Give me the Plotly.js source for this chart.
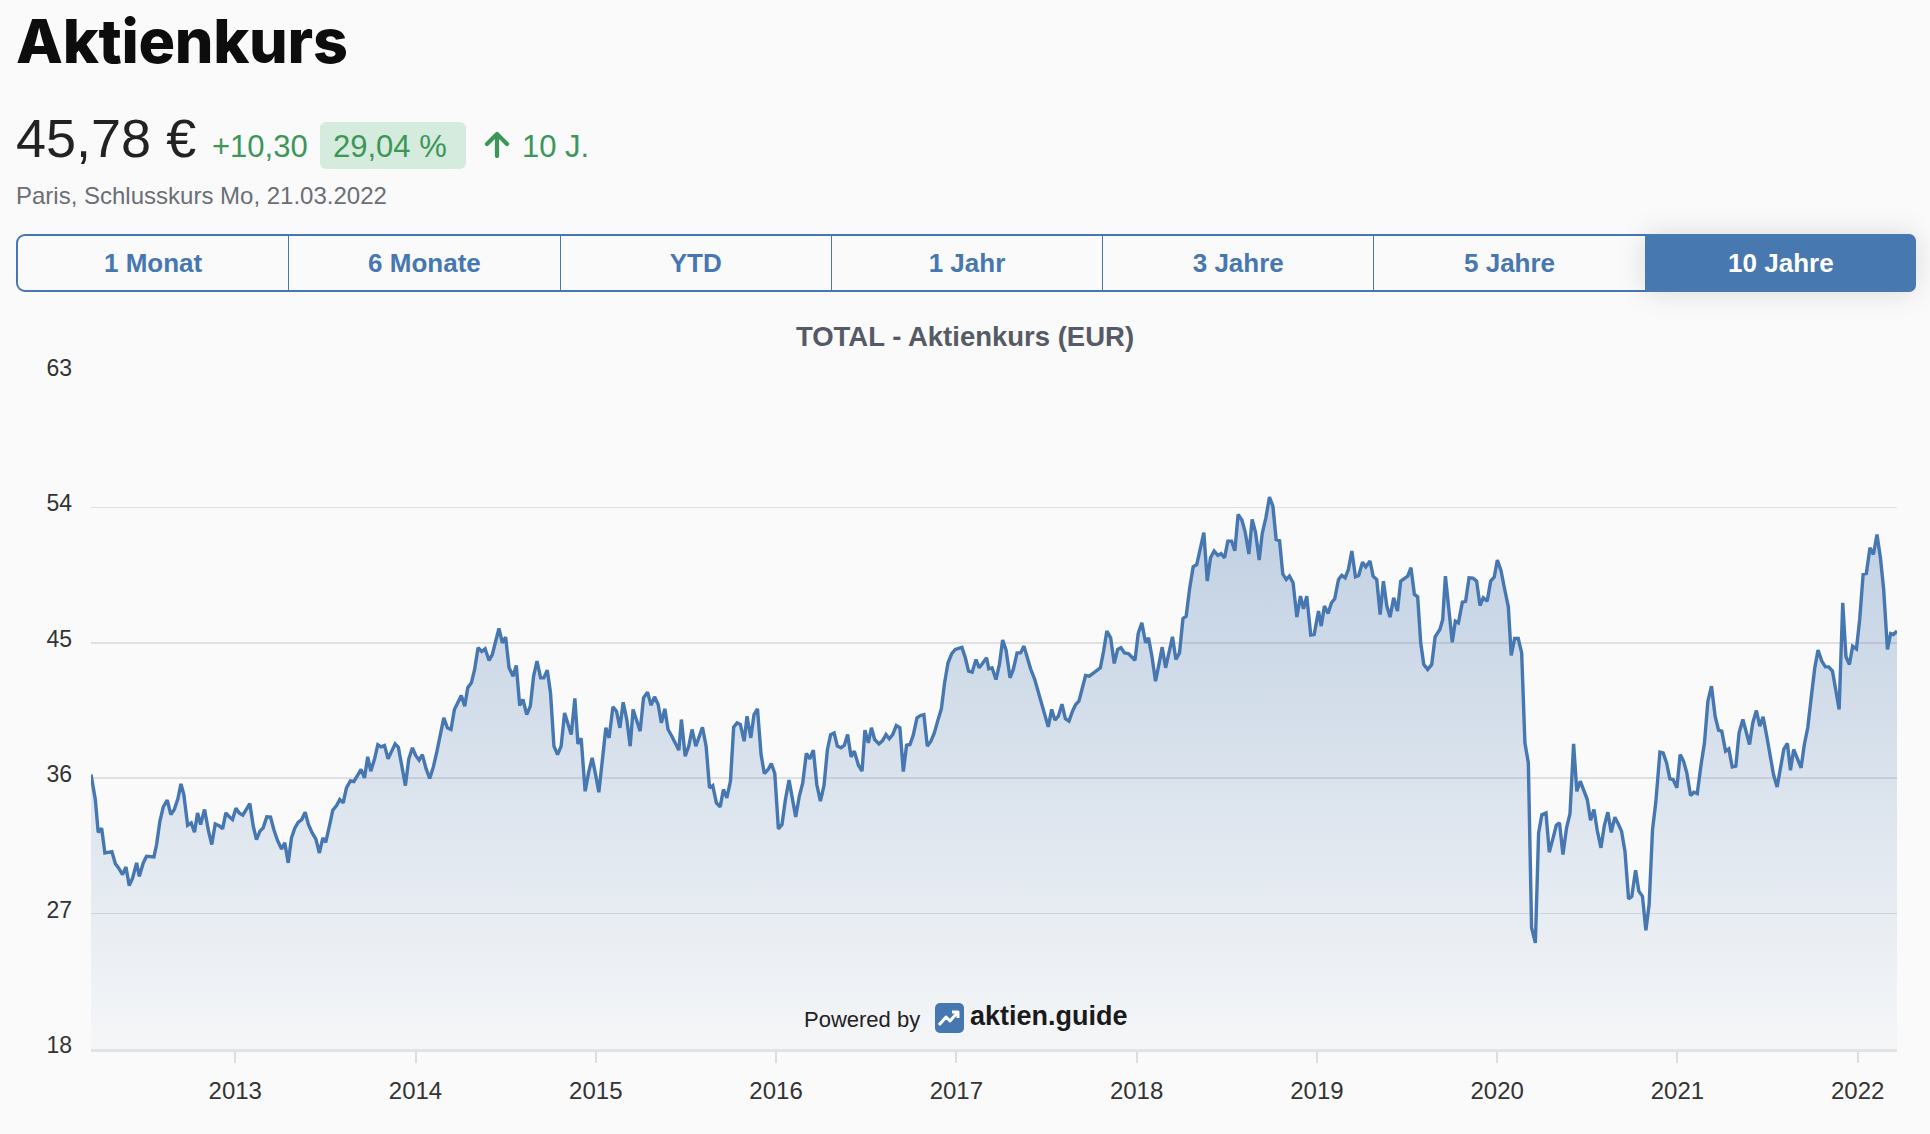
<!DOCTYPE html>
<html>
<head>
<meta charset="utf-8">
<script src="https://cdn.plot.ly/plotly-3.0.1.min.js"></script>
<style>
  html, body { margin: 0; padding: 0; background: #fafafa; }
  body { width: 1930px; height: 1134px; position: relative; overflow: hidden; font-family: "Liberation Sans", Arial, sans-serif; }
  #chart { position: absolute; left: 0; top: 0; width: 1930px; height: 1134px; }
  .abs { position: absolute; white-space: nowrap; }
  h1 { position: absolute; left: 16px; top: 11px; margin: 0; font-family: Inter, sans-serif; font-weight: 800; font-size: 61px; line-height: 61px; color: #0d0d0d; letter-spacing: -0.3px; }
  .price { left: 16px; top: 111px; font-size: 54px; line-height: 54px; color: #222; }
  .green { color: #3b9758; font-size: 31px; line-height: 31px; }
  .badge { left: 320px; top: 122px; width: 146px; height: 47px; background: #d5ebdd; border-radius: 6px; }
  .sub { left: 16px; top: 184px; font-size: 24px; line-height: 24px; color: #6b6e75; }
  .tabs { position: absolute; left: 16px; top: 234px; width: 1896px; height: 54px; border: 2px solid #4677b0; border-radius: 9px; overflow: visible; display: flex; }
  .tabs div { flex: 1; display: flex; align-items: center; justify-content: center; font-weight: bold; font-size: 26px; color: #4677b0; border-left: 1.5px solid #4677b0; }
  .tabs div:first-child { border-left: none; }
  .tabs div.on { background: #4878b0; color: #fff; border-radius: 0 7px 7px 0; box-shadow: 0 0 28px rgba(0,0,0,0.13); margin: -2px -2px -2px 0; }
  .pw { left: 804px; top: 1009px; font-size: 22px; line-height: 22px; color: #222; }
  .ag { left: 970px; top: 1003px; font-size: 27px; line-height: 27px; font-weight: bold; color: #1a1a1a; }
</style>
</head>
<body>
<div id="chart"></div>

<h1>Aktienkurs</h1>
<div class="abs price">45,78 €</div>
<div class="abs green" style="left:212px; top:131px;">+10,30</div>
<div class="abs badge"></div>
<div class="abs green" style="left:333px; top:131px;">29,04 %</div>
<svg class="abs" style="left:483px; top:131px;" width="28" height="27" viewBox="0 0 28 27">
  <path d="M14 25 V4 M4 13 L14 3 L24 13" stroke="#3b9758" stroke-width="4.2" fill="none" stroke-linecap="round" stroke-linejoin="round"/>
</svg>
<div class="abs green" style="left:522px; top:131px;">10 J.</div>
<div class="abs sub">Paris, Schlusskurs Mo, 21.03.2022</div>

<div class="tabs">
  <div>1 Monat</div>
  <div>6 Monate</div>
  <div>YTD</div>
  <div>1 Jahr</div>
  <div>3 Jahre</div>
  <div>5 Jahre</div>
  <div class="on">10 Jahre</div>
</div>

<div class="abs pw">Powered by</div>
<svg class="abs" style="left:935px; top:1003px;" width="29" height="30" viewBox="0 0 29 30">
  <rect x="0" y="0" width="29" height="30" rx="5" fill="#4677b0"/>
  <path d="M4 22 L11 14 L15 18 L23 9 M17 9 H23 V15" stroke="#fff" stroke-width="3" fill="none" stroke-linejoin="round"/>
</svg>
<div class="abs ag">aktien.guide</div>

<script>
// weekly closing prices, x as decimal year
var dateYears = [
  2012.200, 2012.224, 2012.240, 2012.259, 2012.277, 2012.316, 2012.335, 2012.353, 2012.375, 2012.394,
  2012.412, 2012.431, 2012.453, 2012.468, 2012.490, 2012.508, 2012.549, 2012.564, 2012.582, 2012.601,
  2012.623, 2012.643, 2012.662, 2012.682, 2012.699, 2012.715, 2012.736, 2012.756, 2012.774, 2012.791,
  2012.808, 2012.830, 2012.852, 2012.870, 2012.889, 2012.915, 2012.930, 2012.948, 2012.967, 2012.985,
  2013.004, 2013.022, 2013.042, 2013.063, 2013.081, 2013.100, 2013.118, 2013.137, 2013.155, 2013.175,
  2013.196, 2013.214, 2013.234, 2013.257, 2013.275, 2013.294, 2013.312, 2013.331, 2013.349, 2013.369,
  2013.388, 2013.406, 2013.427, 2013.447, 2013.467, 2013.486, 2013.502, 2013.523, 2013.541, 2013.562,
  2013.580, 2013.599, 2013.617, 2013.639, 2013.658, 2013.676, 2013.698, 2013.717, 2013.735, 2013.752,
  2013.772, 2013.791, 2013.809, 2013.828, 2013.848, 2013.868, 2013.887, 2013.905, 2013.926, 2013.944,
  2013.963, 2013.983, 2014.001, 2014.020, 2014.038, 2014.059, 2014.079, 2014.099, 2014.118, 2014.138,
  2014.157, 2014.177, 2014.197, 2014.216, 2014.236, 2014.254, 2014.273, 2014.290, 2014.310, 2014.328,
  2014.347, 2014.367, 2014.386, 2014.408, 2014.426, 2014.445, 2014.463, 2014.482, 2014.500, 2014.519,
  2014.541, 2014.559, 2014.578, 2014.596, 2014.617, 2014.637, 2014.655, 2014.674, 2014.694, 2014.712,
  2014.731, 2014.749, 2014.768, 2014.788, 2014.808, 2014.827, 2014.843, 2014.864, 2014.884, 2014.901,
  2014.919, 2014.941, 2014.962, 2014.980, 2014.999, 2015.017, 2015.036, 2015.056, 2015.074, 2015.095,
  2015.115, 2015.134, 2015.152, 2015.172, 2015.191, 2015.207, 2015.228, 2015.246, 2015.265, 2015.287,
  2015.307, 2015.326, 2015.346, 2015.364, 2015.383, 2015.401, 2015.422, 2015.440, 2015.461, 2015.475,
  2015.496, 2015.516, 2015.534, 2015.555, 2015.573, 2015.592, 2015.612, 2015.631, 2015.649, 2015.669,
  2015.690, 2015.708, 2015.727, 2015.747, 2015.765, 2015.784, 2015.802, 2015.823, 2015.839, 2015.860,
  2015.878, 2015.897, 2015.917, 2015.935, 2015.956, 2015.974, 2015.993, 2016.013, 2016.033, 2016.052,
  2016.072, 2016.091, 2016.109, 2016.129, 2016.148, 2016.168, 2016.187, 2016.207, 2016.226, 2016.246,
  2016.266, 2016.285, 2016.303, 2016.322, 2016.340, 2016.360, 2016.379, 2016.397, 2016.416, 2016.434,
  2016.457, 2016.477, 2016.493, 2016.512, 2016.529, 2016.547, 2016.571, 2016.591, 2016.610, 2016.628,
  2016.647, 2016.667, 2016.687, 2016.706, 2016.724, 2016.743, 2016.761, 2016.782, 2016.802, 2016.820,
  2016.839, 2016.859, 2016.878, 2016.898, 2016.917, 2016.935, 2016.954, 2016.974, 2016.994, 2017.031,
  2017.050, 2017.068, 2017.088, 2017.109, 2017.127, 2017.148, 2017.168, 2017.180, 2017.198, 2017.220,
  2017.239, 2017.257, 2017.276, 2017.298, 2017.316, 2017.337, 2017.357, 2017.375, 2017.394, 2017.412,
  2017.435, 2017.453, 2017.471, 2017.490, 2017.510, 2017.529, 2017.547, 2017.566, 2017.586, 2017.605,
  2017.625, 2017.643, 2017.662, 2017.680, 2017.699, 2017.717, 2017.738, 2017.756, 2017.775, 2017.799,
  2017.817, 2017.835, 2017.856, 2017.876, 2017.895, 2017.913, 2017.933, 2017.954, 2017.972, 2017.991,
  2018.009, 2018.029, 2018.050, 2018.066, 2018.085, 2018.105, 2018.124, 2018.142, 2018.161, 2018.179,
  2018.199, 2018.218, 2018.238, 2018.257, 2018.275, 2018.294, 2018.314, 2018.334, 2018.353, 2018.373,
  2018.392, 2018.410, 2018.430, 2018.451, 2018.469, 2018.488, 2018.506, 2018.527, 2018.545, 2018.563,
  2018.584, 2018.602, 2018.623, 2018.641, 2018.660, 2018.680, 2018.697, 2018.717, 2018.737, 2018.756,
  2018.774, 2018.793, 2018.811, 2018.830, 2018.848, 2018.868, 2018.889, 2018.909, 2018.926, 2018.944,
  2018.966, 2018.985, 2019.009, 2019.024, 2019.042, 2019.062, 2019.081, 2019.099, 2019.120, 2019.138,
  2019.157, 2019.175, 2019.194, 2019.214, 2019.232, 2019.253, 2019.271, 2019.295, 2019.312, 2019.332,
  2019.351, 2019.369, 2019.388, 2019.406, 2019.426, 2019.447, 2019.465, 2019.485, 2019.504, 2019.522,
  2019.541, 2019.559, 2019.576, 2019.593, 2019.615, 2019.637, 2019.656, 2019.683, 2019.698, 2019.713,
  2019.731, 2019.751, 2019.768, 2019.785, 2019.807, 2019.825, 2019.844, 2019.866, 2019.886, 2019.905,
  2019.923, 2019.945, 2019.964, 2019.984, 2020.001, 2020.021, 2020.040, 2020.062, 2020.078, 2020.097,
  2020.117, 2020.136, 2020.154, 2020.173, 2020.191, 2020.212, 2020.230, 2020.248, 2020.271, 2020.289,
  2020.309, 2020.328, 2020.346, 2020.365, 2020.385, 2020.404, 2020.424, 2020.442, 2020.461, 2020.479,
  2020.500, 2020.518, 2020.537, 2020.555, 2020.576, 2020.594, 2020.614, 2020.633, 2020.653, 2020.672,
  2020.690, 2020.709, 2020.729, 2020.747, 2020.768, 2020.786, 2020.806, 2020.825, 2020.843, 2020.862,
  2020.880, 2020.903, 2020.921, 2020.940, 2020.958, 2020.976, 2020.997, 2021.015, 2021.034, 2021.052,
  2021.073, 2021.091, 2021.110, 2021.130, 2021.150, 2021.169, 2021.189, 2021.209, 2021.228, 2021.246,
  2021.267, 2021.285, 2021.304, 2021.324, 2021.342, 2021.363, 2021.381, 2021.400, 2021.418, 2021.438,
  2021.457, 2021.475, 2021.494, 2021.514, 2021.533, 2021.553, 2021.571, 2021.590, 2021.610, 2021.627,
  2021.645, 2021.666, 2021.686, 2021.704, 2021.723, 2021.743, 2021.762, 2021.780, 2021.801, 2021.821,
  2021.839, 2021.860, 2021.878, 2021.897, 2021.917, 2021.935, 2021.954, 2021.972, 2021.993, 2022.011,
  2022.030, 2022.048, 2022.068, 2022.087, 2022.107, 2022.126, 2022.144, 2022.165, 2022.183, 2022.198,
  2022.218
];

var prices = [
  36.24, 34.58, 32.40, 32.67, 31.03, 31.12, 30.32, 30.04, 29.59, 30.10,
  28.86, 29.37, 30.37, 29.48, 30.37, 30.81, 30.77, 31.59, 33.14, 34.09,
  34.54, 33.58, 33.92, 34.63, 35.62, 34.91, 32.87, 33.03, 32.41, 33.69,
  32.92, 33.92, 32.48, 31.59, 32.96, 32.81, 32.63, 33.69, 33.43, 33.25,
  34.00, 33.69, 33.54, 33.96, 34.31, 32.81, 31.92, 32.48, 32.70, 33.43,
  33.41, 32.59, 31.88, 31.30, 31.70, 30.37, 32.03, 32.70, 33.07, 33.25,
  33.74, 32.92, 32.36, 31.97, 31.03, 32.03, 31.74, 32.85, 33.87, 34.18,
  34.58, 34.36, 35.36, 35.82, 35.78, 36.13, 36.58, 36.02, 37.42, 36.47,
  37.24, 38.22, 38.08, 38.17, 37.29, 37.80, 38.28, 38.06, 36.58, 35.51,
  37.29, 38.02, 37.51, 37.20, 37.57, 36.62, 35.98, 36.75, 37.73, 38.79,
  40.01, 39.35, 39.24, 40.57, 41.01, 41.50, 40.79, 42.01, 42.34, 43.23,
  44.67, 44.42, 44.60, 43.83, 44.22, 45.11, 45.95, 45.00, 45.38, 43.34,
  42.78, 43.49, 40.83, 41.23, 40.23, 40.79, 42.78, 43.78, 42.67, 42.67,
  43.18, 41.67, 38.13, 37.57, 38.13, 40.34, 39.79, 38.90, 41.30, 38.28,
  38.64, 35.13, 36.47, 37.35, 36.24, 35.07, 37.13, 39.35, 38.68, 40.74,
  40.45, 39.35, 41.05, 39.90, 38.13, 40.57, 39.79, 39.13, 41.34, 41.72,
  40.85, 41.41, 40.90, 39.68, 40.61, 39.24, 38.79, 38.35, 37.86, 39.90,
  37.46, 38.13, 39.24, 38.13, 38.79, 39.39, 38.13, 35.36, 35.51, 34.36,
  34.09, 35.25, 34.69, 35.80, 39.39, 39.68, 39.57, 38.46, 40.12, 38.68,
  40.23, 40.61, 37.57, 36.31, 36.58, 36.98, 36.31, 32.63, 32.92, 34.58,
  35.87, 34.58, 33.43, 34.80, 35.69, 37.64, 37.29, 37.86, 35.58, 34.47,
  35.51, 37.91, 38.90, 39.01, 38.13, 38.02, 38.19, 38.90, 37.42, 37.80,
  36.86, 36.47, 39.19, 38.35, 39.35, 38.57, 38.28, 38.50, 38.90, 38.62,
  38.90, 39.50, 39.35, 36.44, 38.19, 38.24, 38.86, 40.01, 40.17, 40.23,
  38.13, 38.46, 39.01, 39.86, 40.61, 42.34, 43.67, 44.27, 44.56, 44.69,
  44.00, 43.12, 43.05, 43.89, 43.34, 43.67, 44.00, 43.27, 43.34, 42.56,
  43.56, 45.18, 44.51, 42.67, 43.23, 44.33, 44.33, 44.78, 43.89, 43.27,
  42.56, 41.79, 41.01, 40.23, 39.41, 40.57, 39.86, 40.12, 40.92, 39.95,
  39.79, 40.41, 40.90, 41.12, 41.90, 42.83, 42.78, 42.94, 43.18, 43.34,
  44.45, 45.78, 45.33, 43.63, 44.56, 44.67, 44.33, 44.29, 44.07, 43.83,
  45.62, 46.33, 45.00, 45.33, 44.11, 42.45, 43.56, 44.71, 43.34, 44.33,
  45.40, 43.89, 44.33, 46.60, 46.77, 48.59, 50.05, 50.21, 51.21, 52.32,
  49.10, 50.65, 51.10, 50.81, 50.92, 50.65, 51.76, 51.76, 51.12, 53.53,
  53.16, 52.38, 50.90, 53.20, 52.32, 50.50, 52.27, 53.31, 54.69, 54.09,
  51.87, 51.78, 49.57, 49.21, 49.43, 48.99, 46.71, 48.10, 47.26, 48.10,
  45.51, 45.55, 47.11, 46.11, 47.44, 46.95, 47.66, 47.93, 49.21, 49.48,
  49.32, 49.88, 51.10, 49.39, 49.48, 50.36, 50.05, 50.43, 49.43, 49.21,
  46.88, 49.10, 47.44, 46.71, 47.99, 47.11, 49.10, 49.28, 49.43, 49.99,
  48.21, 48.06, 45.00, 43.56, 43.23, 43.56, 45.40, 45.90, 46.55, 49.43,
  47.44, 45.04, 46.44, 46.33, 47.70, 47.75, 49.32, 49.30, 49.10, 47.48,
  47.99, 47.77, 49.10, 49.37, 50.50, 49.83, 48.66, 47.39, 44.16, 45.29,
  45.29, 44.33, 38.35, 37.02, 26.05, 25.05, 32.36, 33.58, 33.69, 31.08,
  31.97, 32.87, 33.03, 30.92, 32.70, 33.63, 38.28, 35.13, 35.80, 35.25,
  34.58, 33.21, 33.92, 32.54, 31.37, 32.81, 33.74, 32.40, 33.41, 32.96,
  32.48, 31.15, 27.98, 28.15, 29.88, 28.49, 28.15, 25.89, 27.60, 32.59,
  34.40, 37.73, 37.68, 37.02, 35.96, 35.91, 35.36, 37.57, 37.13, 36.35,
  34.85, 35.07, 34.98, 36.80, 38.35, 41.12, 42.12, 40.12, 39.19, 39.13,
  37.80, 37.95, 36.75, 36.80, 39.01, 39.90, 39.01, 38.24, 39.68, 40.50,
  39.46, 40.08, 38.90, 37.35, 36.24, 35.42, 36.58, 37.91, 38.31, 36.53,
  37.91, 37.24, 36.69, 38.24, 39.35, 41.45, 43.34, 44.51, 43.78, 43.40,
  43.40, 43.12, 41.90, 40.57, 47.66, 44.07, 43.56, 44.78, 44.60, 46.55,
  49.54, 49.61, 51.32, 50.87, 52.20, 50.65, 48.55, 44.56, 45.62, 45.55,
  45.78
];

var yearTicks = [2013, 2014, 2015, 2016, 2017, 2018, 2019, 2020, 2021, 2022];
var yearLabels = ['2013', '2014', '2015', '2016', '2017', '2018', '2019', '2020', '2021', '2022'];
var priceTicks = [18, 27, 36, 45, 54, 63];

var trace = {
    x: dateYears,
    y: prices,
    type: 'scatter',
    mode: 'lines',
    line: { color: '#4677b0', width: 3.4 },
    fill: 'tozeroy',
    fillcolor: 'rgba(70,119,176,0.2)',
    fillgradient: {
        type: 'vertical',
        start: 18,
        stop: 56,
        colorscale: [[0, 'rgba(70,119,176,0.03)'], [1, 'rgba(70,119,176,0.34)']]
    },
    hoverinfo: 'skip'
};

var layout = {
    width: 1930,
    height: 1134,
    margin: { l: 91, r: 33, t: 372, b: 85 },
    paper_bgcolor: 'rgba(0,0,0,0)',
    plot_bgcolor: 'rgba(0,0,0,0)',
    showlegend: false,
    font: { family: 'Liberation Sans, Arial, sans-serif', color: '#333333' },
    title: {
        text: '<b>TOTAL - Aktienkurs (EUR)</b>',
        font: { size: 27.5, color: '#555a66', family: 'Liberation Sans, Arial, sans-serif' },
        xref: 'container', x: 0.5, xanchor: 'center',
        yref: 'container', y: 1 - 336 / 1134, yanchor: 'middle'
    },
    xaxis: {
        type: 'linear',
        range: [dateYears[0], dateYears[dateYears.length - 1]],
        tickvals: yearTicks,
        ticktext: yearLabels,
        showgrid: false,
        zeroline: false,
        showline: true,
        linecolor: '#e2e2e2',
        linewidth: 3,
        ticks: 'outside',
        ticklen: 11,
        tickwidth: 2,
        tickcolor: '#dddddd',
        ticklabelstandoff: 7,
        tickfont: { size: 24, color: '#333333' }
    },
    yaxis: {
        range: [18, 63],
        tickvals: priceTicks,
        showgrid: true,
        gridcolor: '#e0e0e0',
        gridwidth: 1.6,
        zeroline: false,
        showline: false,
        ticks: '',
        ticklabelstandoff: 18,
        ticklabelshift: -4,
        tickfont: { size: 23, color: '#333333' }
    }
};

Plotly.newPlot('chart', [trace], layout, { staticPlot: true, displayModeBar: false });
</script>
</body>
</html>
